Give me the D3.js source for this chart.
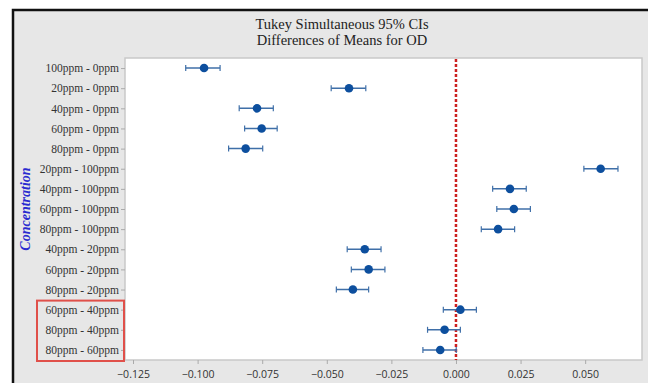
<!DOCTYPE html>
<html>
<head>
<meta charset="utf-8">
<script src="https://cdn.jsdelivr.net/npm/d3@7"></script>
<style>
  body { margin: 0; background: #fff; }
  svg { display: block; }
</style>
</head>
<body>
<svg id="chart"></svg>
<script>
// comparisons (top to bottom)
let pairs = [
  "100ppm - 0ppm", "20ppm - 0ppm", "40ppm - 0ppm", "60ppm - 0ppm", "80ppm - 0ppm",
  "20ppm - 100ppm", "40ppm - 100ppm", "60ppm - 100ppm", "80ppm - 100ppm",
  "40ppm - 20ppm", "60ppm - 20ppm", "80ppm - 20ppm",
  "60ppm - 40ppm", "80ppm - 40ppm", "80ppm - 60ppm"
];
// difference of means
let diffs = [-0.0975, -0.0414, -0.0770, -0.0752, -0.0814,
  0.0560, 0.0209, 0.0224, 0.0163,
  -0.0353, -0.0338, -0.0399,
  0.0017, -0.0044, -0.0061];
// lower and upper bounds of the 95% CI
let lower = [-0.1046, -0.0483, -0.0839, -0.0818, -0.0880,
  0.0495, 0.0142, 0.0158, 0.0098,
  -0.0421, -0.0405, -0.0463,
  -0.0049, -0.0110, -0.0128];
let upper = [-0.0913, -0.0349, -0.0707, -0.0692, -0.0748,
  0.0627, 0.0272, 0.0288, 0.0227,
  -0.0290, -0.0275, -0.0338,
  0.0079, 0.0017, 0.0001];
let xTicks = [-0.125, -0.100, -0.075, -0.050, -0.025, 0.000, 0.025, 0.050];
// highlighted rows
let boxed = ["60ppm - 40ppm", "80ppm - 40ppm", "80ppm - 60ppm"];

let width = 648;
let height = 383;
let plotLeft = 125, plotRight = 642, plotTop = 58, plotBottom = 360;

let svg = d3.select("#chart").attr("width", width).attr("height", height);

// outer grey panel with black frame
svg.append("rect")
  .attr("x", 13).attr("y", 10)
  .attr("width", width).attr("height", height)
  .attr("fill", "#e7e7e7")
  .attr("stroke", "#111")
  .attr("stroke-width", 2.5);

// plot area
svg.append("rect")
  .attr("x", plotLeft).attr("y", plotTop)
  .attr("width", plotRight - plotLeft).attr("height", plotBottom - plotTop)
  .attr("fill", "#fff")
  .attr("stroke", "#c9c9c9")
  .attr("stroke-width", 1.5);

let scaleX = d3.scaleLinear().domain([-0.1281, 0.0720]).range([plotLeft, plotRight]);
let scaleY = d3.scalePoint().domain(pairs).range([plotTop, plotBottom]).padding(0.5);

// title
let title = svg.append("text")
  .attr("x", 342).attr("y", 29)
  .attr("text-anchor", "middle")
  .style("font-family", "'Liberation Serif', serif")
  .style("font-size", "14.5px")
  .attr("fill", "#222");
title.append("tspan").attr("x", 342).attr("dy", 0).text("Tukey Simultaneous 95% CIs");
title.append("tspan").attr("x", 342).attr("dy", 16).text("Differences of Means for OD");

// axes
let axisX = d3.axisBottom(scaleX).tickValues(xTicks).tickFormat(d3.format(".3f")).tickSize(4).tickSizeOuter(0);
let gx = svg.append("g")
  .attr("transform", `translate(0, ${plotBottom})`)
  .call(axisX);
gx.select(".domain").remove();
gx.selectAll("line").attr("stroke", "#aaa");
gx.selectAll("text")
  .attr("dy", "1.05em")
  .style("font-family", "'Open Sans', sans-serif")
  .style("font-size", "10.5px")
  .attr("fill", "#333");

let axisY = d3.axisLeft(scaleY).tickSize(4).tickSizeOuter(0);
let gy = svg.append("g")
  .attr("transform", `translate(${plotLeft}, 0)`)
  .call(axisY);
gy.select(".domain").remove();
gy.selectAll("line").attr("stroke", "#aaa");
gy.selectAll("text")
  .attr("x", -6)
  .style("font-family", "'Liberation Serif', serif")
  .style("font-size", "11.5px")
  .attr("fill", "#333");

// y axis title
svg.append("text")
  .attr("transform", `translate(30, ${(plotTop + plotBottom) / 2}) rotate(-90)`)
  .attr("text-anchor", "middle")
  .style("font-family", "'Liberation Serif', serif")
  .style("font-size", "14px")
  .style("font-weight", "bold")
  .style("font-style", "italic")
  .attr("fill", "#2b2bd0")
  .text("Concentration");

// zero reference line
svg.append("line")
  .attr("x1", scaleX(0)).attr("x2", scaleX(0))
  .attr("y1", plotTop + 1).attr("y2", plotBottom)
  .attr("stroke", "#cc1f1f")
  .attr("stroke-width", 2.5)
  .attr("stroke-dasharray", "3,2");

// intervals
let rows = pairs.map((p, i) => ({ label: p, diff: diffs[i], lo: lower[i], hi: upper[i] }));
let capH = 3;
let g = svg.append("g");
g.selectAll(".ci")
  .data(rows)
  .enter()
  .append("line")
  .attr("x1", d => scaleX(d.lo)).attr("x2", d => scaleX(d.hi))
  .attr("y1", d => scaleY(d.label)).attr("y2", d => scaleY(d.label))
  .attr("stroke", "#3f6fa8").attr("stroke-width", 1.5);
g.selectAll(".capLo")
  .data(rows)
  .enter()
  .append("line")
  .attr("x1", d => scaleX(d.lo)).attr("x2", d => scaleX(d.lo))
  .attr("y1", d => scaleY(d.label) - capH).attr("y2", d => scaleY(d.label) + capH)
  .attr("stroke", "#3f6fa8").attr("stroke-width", 1.2);
g.selectAll(".capHi")
  .data(rows)
  .enter()
  .append("line")
  .attr("x1", d => scaleX(d.hi)).attr("x2", d => scaleX(d.hi))
  .attr("y1", d => scaleY(d.label) - capH).attr("y2", d => scaleY(d.label) + capH)
  .attr("stroke", "#3f6fa8").attr("stroke-width", 1.2);
g.selectAll(".dot")
  .data(rows)
  .enter()
  .append("circle")
  .attr("r", 4.3)
  .attr("cx", d => scaleX(d.diff))
  .attr("cy", d => scaleY(d.label))
  .attr("fill", "#0d4f9e");

// red box around the last comparisons
let step = scaleY.step();
let y0 = scaleY(boxed[0]) - step / 2;
let y1 = scaleY(boxed[boxed.length - 1]) + step / 2;
svg.append("rect")
  .attr("x", 37).attr("y", y0 + 1)
  .attr("width", plotLeft - 1 - 37).attr("height", y1 - y0)
  .attr("fill", "none")
  .attr("stroke", "#e0504a")
  .attr("stroke-width", 2);
</script>
</body>
</html>
